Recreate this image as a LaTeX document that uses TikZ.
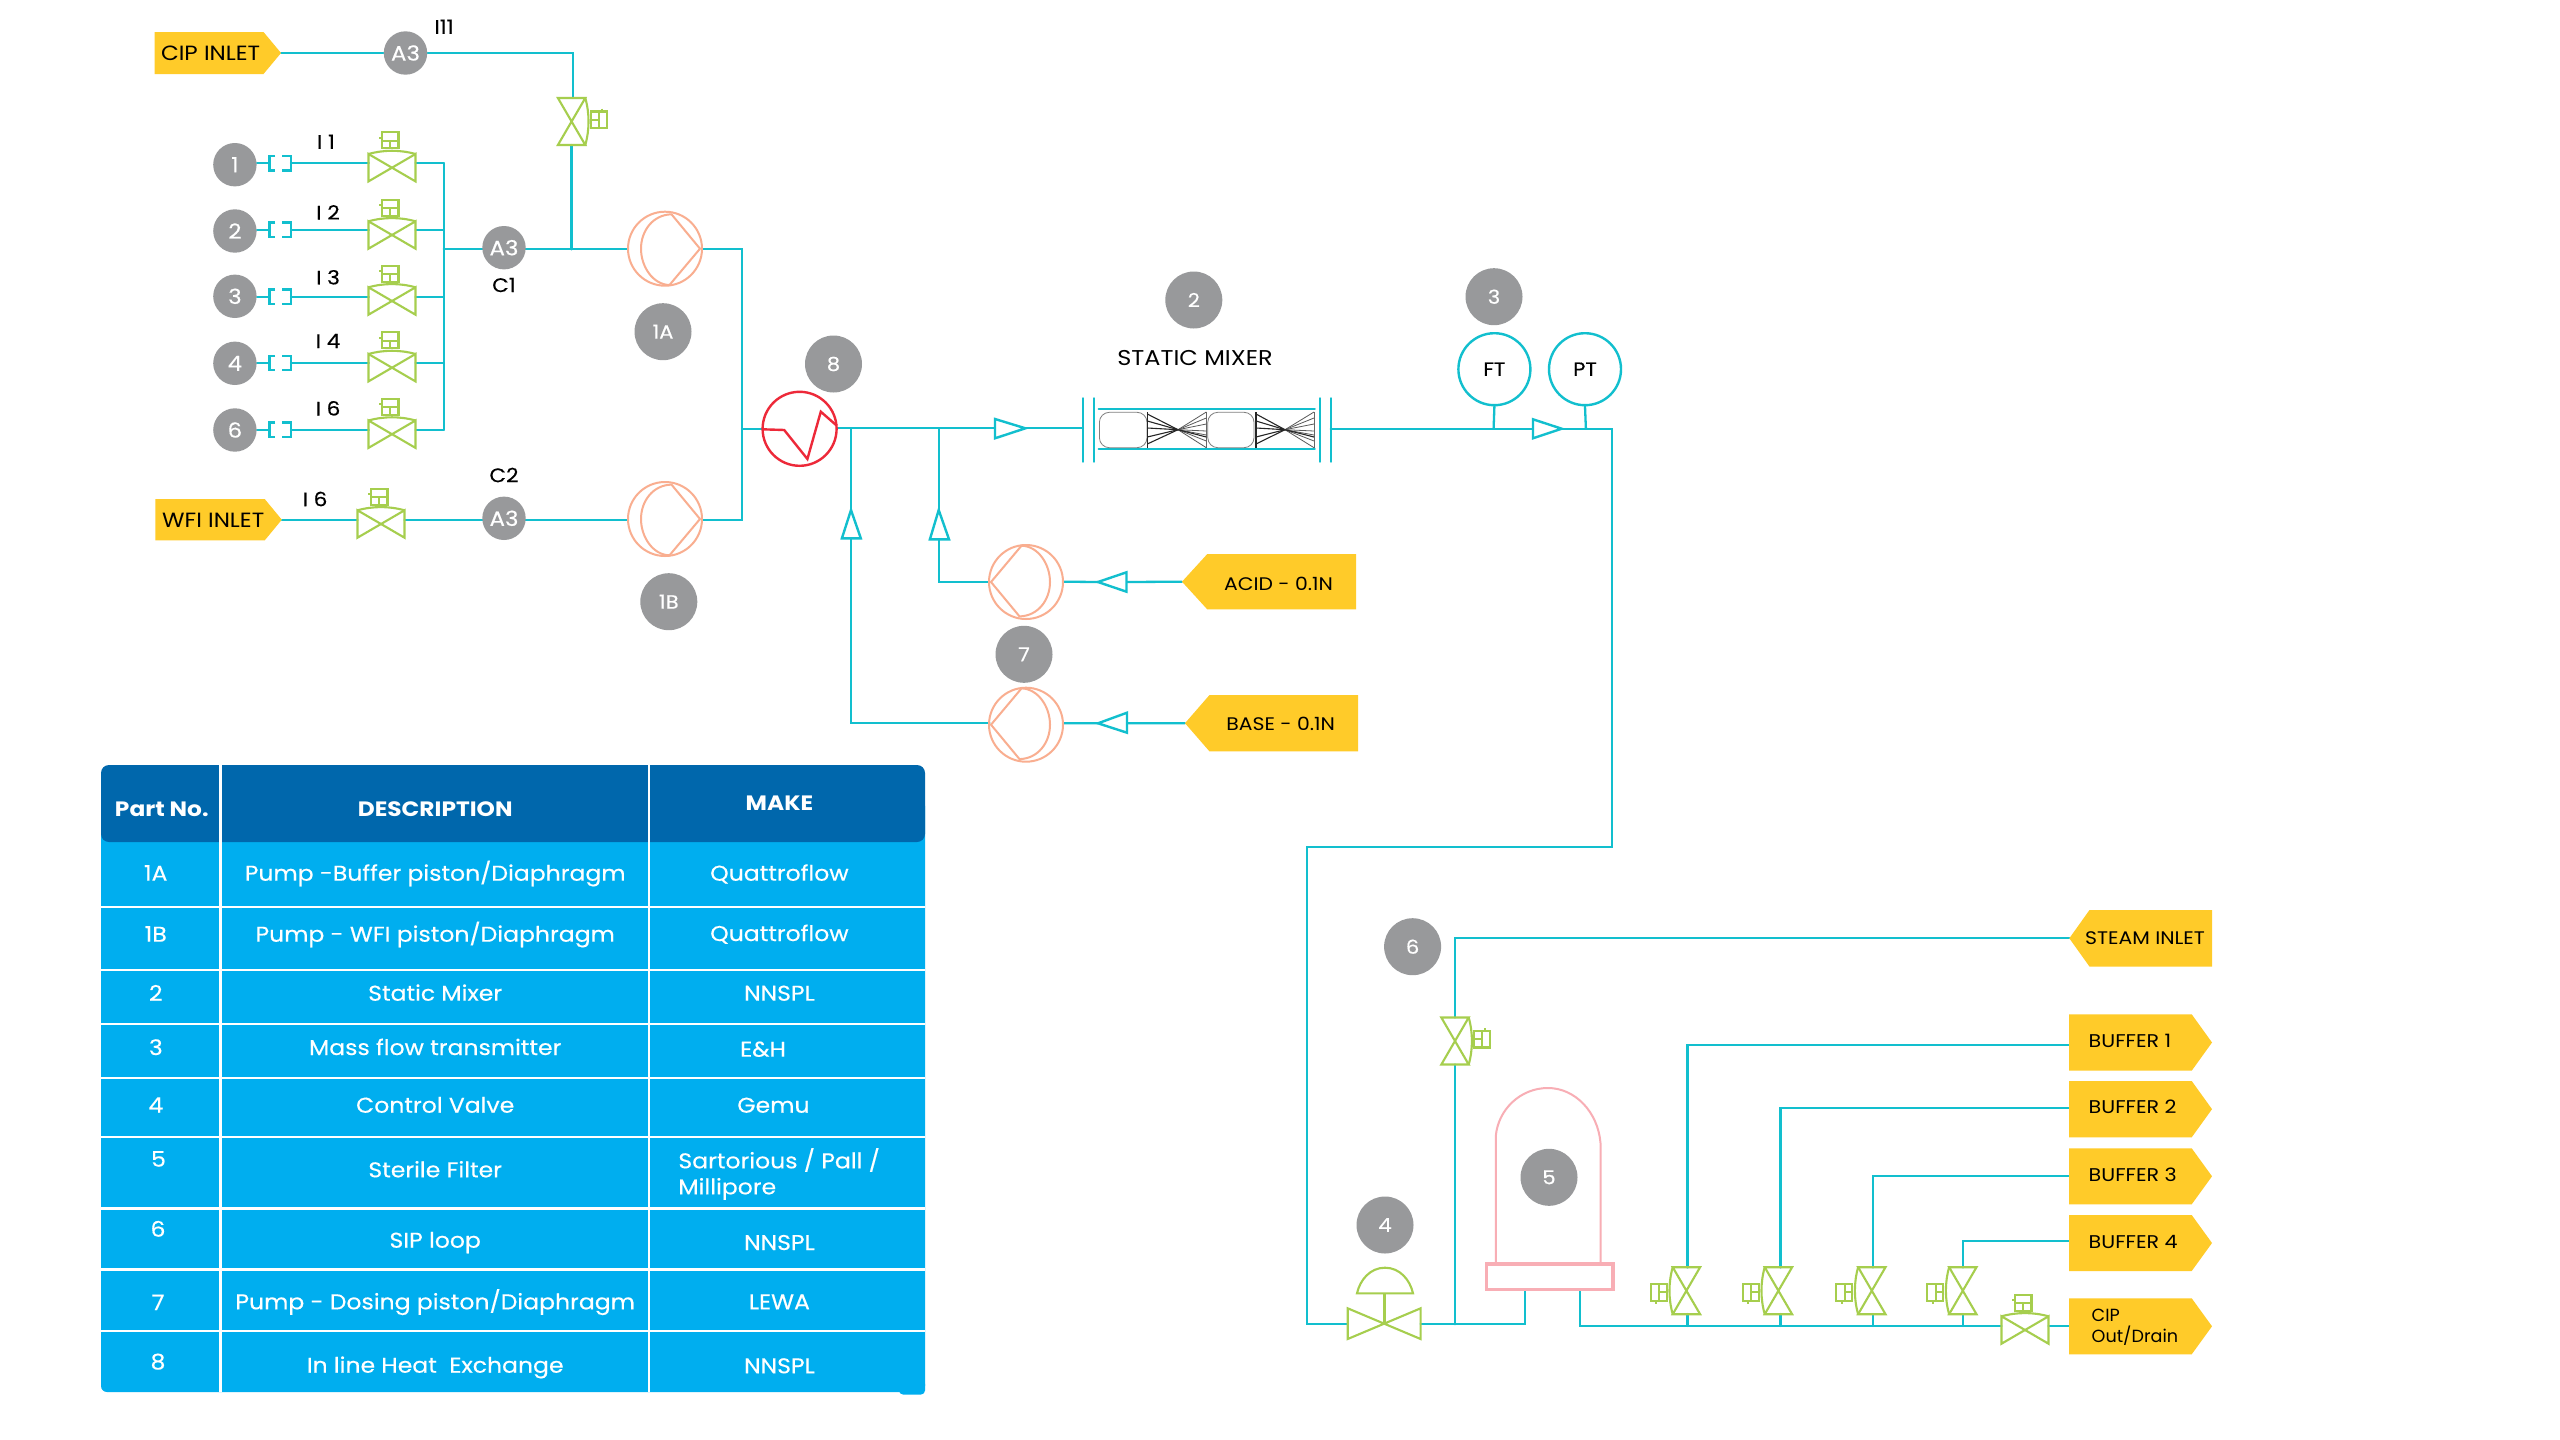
\documentclass[tikz,border=0pt]{standalone}
\usepackage{fontspec}
\setmainfont[FakeStretch=1.12]{Poppins}
\newfontfamily\pmed[FakeBold=0.35,FakeStretch=1.1]{Poppins}
\newfontfamily\pplain{Poppins}
\usetikzlibrary{backgrounds,calc}
\definecolor{teal1}{HTML}{12BFCE}
\definecolor{green1}{HTML}{A6CE4E}
\definecolor{salmon1}{HTML}{F9AE90}
\definecolor{red1}{HTML}{ED2939}
\definecolor{pink1}{HTML}{F8AEB5}
\definecolor{tagc}{HTML}{FFCB29}
\definecolor{badgec}{HTML}{98999B}
\definecolor{hdr}{HTML}{0067AC}
\definecolor{bodyc}{HTML}{00AEEF}
\newcommand{\fsz}[1]{\fontsize{#1}{#1}\selectfont}
\newcommand{\tagright}[6]{% name xleft xnotch xtip ytop ybot
  \fill[tagc] (#2,#5) -- (#3,#5) -- (#4,{(#5+#6)/2}) -- (#3,#6) -- (#2,#6) -- cycle;
  \coordinate (#1) at (#4,{(#5+#6)/2});}
\newcommand{\tagrightflat}[6]{% name xleft xnotch xtip ytop ybot; connector on left edge
  \fill[tagc] (#2,#5) -- (#3,#5) -- (#4,{(#5+#6)/2}) -- (#3,#6) -- (#2,#6) -- cycle;}
\newcommand{\tagleft}[6]{% name xtip xnotch xright ytop ybot
  \fill[tagc] (#4,#5) -- (#3,#5) -- (#2,{(#5+#6)/2}) -- (#3,#6) -- (#4,#6) -- cycle;
  \coordinate (#1) at (#2,{(#5+#6)/2});}
\newcommand{\tcell}[4]{\node[tabtext] (#1) at (#2,#3) {#4};}
\newcommand{\tcellL}[4]{\node[tabtext,anchor=base west] (#1) at (#2,#3) {#4};}
\tikzset{
  x=0.5pt,y=-0.5pt,
  pipe/.style={draw=teal1,line width=1.15pt,line cap=round,line join=miter},
  valveline/.style={draw=green1,line width=1.05pt,line join=miter},
  badge/.style={circle,fill=badgec,inner sep=0pt,minimum size=21.7pt,text=white,font=\pmed\fsz{10.4}},
  bigbadge/.style={badge,minimum size=28.5pt,font=\pmed\fsz{9.6}},
  lbl/.style={inner sep=0pt,text=black,font=\pmed\fsz{9.8}},
  tagtext/.style={inner sep=0pt,text=black,font=\fsz{10.3}},
  buftext/.style={inner sep=0pt,text=black,anchor=west,font=\fsz{9.2}},
  tabtext/.style={inner sep=0pt,text=white,anchor=base,font=\pmed\fsz{10.7}},
  tabhead/.style={tabtext,font=\bfseries\fsz{10.4}},
  meter/.style={circle,draw=teal1,line width=1.2pt,fill=white,inner sep=0pt,minimum size=36pt,text=black,font=\pmed\fsz{9.6}},
  valve/.pic={
    \draw[valveline] (-23.5,-13.7) -- (23.5,13.7) -- (23.5,-13.7) -- (-23.5,13.7) -- cycle;
    \draw[valveline] (-23.5,-13.7) .. controls (-8,-18) and (8,-18) .. (23.5,-13.7);
    \draw[valveline] (-10,-35.4) rectangle (6.5,-19.4);
    \draw[valveline] (-10,-27) -- (6.5,-27) (-1.7,-27) -- (-1.7,-19.4) (-13,-30) -- (-10,-30);
  },
  pumpsym/.pic={
    \draw[draw=salmon1,line width=1pt] (0,0) circle (18.5pt);
    \draw[draw=salmon1,line width=1pt,line join=miter]
      (6.5,-34.4) .. controls (-12,-34) and (-24,-18) .. (-24,0)
      .. controls (-24,18) and (-12,36) .. (4.5,36.3) -- (35,0) -- cycle;
  },
}
\begin{document}
\begin{tikzpicture}
\useasboundingbox (0,0) rectangle (2560,1440);
\begin{scope}[on background layer]
\fill[white] (0,0) rectangle (2560,1440);
\end{scope}

%% ---- tags
\tagright{cipin}{154.5}{263.5}{281}{32}{74}
\node[tagtext] (cipintxt) at (210.6,53) {CIP INLET};
\tagright{wfiin}{155.3}{264.7}{281.8}{499}{540.4}
\node[tagtext] (wfiintxt) at (213.2,520) {WFI INLET};
\tagleft{acidt}{1182}{1207.3}{1356}{554}{609.4}
\node[tagtext,font=\fsz{9.1}] (acidtxt) at (1278.5,584) {ACID - 0.1N};
\tagleft{baset}{1185}{1209.5}{1358}{695}{751.4}
\node[tagtext,font=\fsz{9.1}] (basetxt) at (1280.7,724) {BASE - 0.1N};
\tagleft{steamt}{2069.3}{2089.5}{2212}{910}{966.6}
\node[tagtext,font=\fsz{9.1}] (steamtxt) at (2145,938.3) {STEAM INLET};
\tagrightflat{b1t}{2069}{2191.7}{2212}{1014.3}{1070.7}
\tagrightflat{b2t}{2069}{2191.7}{2212}{1081}{1137.3}
\tagrightflat{b3t}{2069}{2191.7}{2212}{1148.3}{1204.3}
\tagrightflat{b4t}{2069}{2191.7}{2212}{1215}{1271}
\tagrightflat{ct}{2069}{2191.7}{2212}{1298.3}{1354.3}
\node[buftext] (b1txt) at (2088.3,1041.3) {BUFFER 1};
\node[buftext] (b2txt) at (2088.3,1106.7) {BUFFER 2};
\node[buftext] (b3txt) at (2088.3,1174.3) {BUFFER 3};
\node[buftext] (b4txt) at (2088.3,1241.7) {BUFFER 4};
\node[buftext,font=\pplain\fsz{8.8}] (c1txt) at (2091.3,1315.7) {CIP};
\node[buftext,font=\pplain\fsz{8.8}] (c2txt) at (2091.3,1336) {Out/Drain};

%% ---- small badges
\foreach \n/\y in {1/164.7,2/231,3/296.3,4/363.3,6/430}
  \node[badge] (g\n) at (234.9,\y) {\n};
\node[badge] (a3top) at (405.5,53) {A3};
\node[badge] (a3c1) at (504,247.7) {A3};
\node[badge] (a3c2) at (504,518.3) {A3};
%% ---- big badges
\node[bigbadge] (n1a) at (663,331.7) {1A};
\node[bigbadge] (n1b) at (668.8,601.7) {1B};
\node[bigbadge] (n8) at (833.5,364) {8};
\node[bigbadge] (n2) at (1193.8,300) {2};
\node[bigbadge] (n3) at (1494,296.7) {3};
\node[bigbadge] (n7) at (1024,654.3) {7};
\node[bigbadge] (n6) at (1412.6,946.7) {6};
\node[bigbadge] (n5) at (1549,1177.3) {5};
\node[bigbadge] (n4) at (1385,1225) {4};
%% ---- labels
\node[lbl] (i11) at (444,26.7) {I11};
\node[lbl] (i1) at (326,141.7) {I 1};
\node[lbl] (i2) at (328,212.3) {I 2};
\node[lbl] (i3) at (328,277.3) {I 3};
\node[lbl] (i4) at (328,341) {I 4};
\node[lbl] (i6) at (328,408.3) {I 6};
\node[lbl] (i6b) at (315,499) {I 6};
\node[lbl] (c1) at (504,285) {C1};
\node[lbl] (c2) at (504,475) {C2};
\node[inner sep=0pt,font=\fsz{10.7}] (smx) at (1195,358.3) {STATIC MIXER};
\node[meter] (ft) at (1494.4,369.2) {FT};
\node[meter] (pt) at (1585,369.2) {PT};

%% ---- valves, pumps
\foreach \n/\y in {1/167.7,2/235,3/301,4/367.7,6/434.2}
  \pic at (392,\y) {valve};
\pic at (381,524) {valve};
\pic[rotate=-90] at (571.6,121.5) {valve};
\pic[rotate=-90] at (1455,1041) {valve};
\foreach \x in {1686.4,1778.4,1871.8,1962.8}
  \pic[rotate=90] at (\x,1290.7) {valve};
\pic at (2025,1330) {valve};
\pic at (665,248.7) {pumpsym};
\pic at (665,519) {pumpsym};
\pic[rotate=180] at (1026,582) {pumpsym};
\pic[rotate=180] at (1026,724.7) {pumpsym};

%% heat exchanger
\draw[draw=red1,line width=1.2pt] (799.6,428.8) circle (18.5pt);
\draw[draw=red1,line width=1.2pt,line join=miter] (762.3,429.3) -- (784.2,430) -- (807.4,459) -- (820.8,411.7) -- (836.8,425.7);

%% control valve
\draw[valveline] (1347.7,1308.3) -- (1420.6,1339) -- (1420.6,1308.3) -- (1347.7,1339) -- cycle;
\draw[valveline] (1357,1293.3) .. controls (1360,1280) and (1370,1267.7) .. (1385,1267.7) .. controls (1400,1267.7) and (1410,1280) .. (1413,1293.3) -- cycle;
\draw[valveline] (1384.5,1293.3) -- (1384.5,1323.5);

%% filter
\draw[draw=pink1,line width=1pt] (1495.8,1263) -- (1495.8,1136) .. controls (1498,1110) and (1520,1088) .. (1548,1088) .. controls (1575,1088) and (1598,1112) .. (1600.5,1143) -- (1600.5,1263);
\draw[draw=pink1,line width=1.9pt] (1486.5,1264) rectangle (1613,1289.5);

%% static mixer
\draw[pipe] (1083,398.3) -- (1083,461.7) (1094,398.3) -- (1094,461.7);
\draw[pipe] (1319.7,398.3) -- (1319.7,461.7) (1330.7,398.3) -- (1330.7,461.7);
\draw[pipe] (1098.7,409) -- (1314.7,409) (1098.7,449.3) -- (1314.7,449.3);
\draw[gray,line width=0.4pt,rounded corners=5pt] (1099.4,412.3) rectangle (1147,447.7);
\draw[gray,line width=0.4pt,rounded corners=5pt] (1207.8,412.3) rectangle (1254,447.7);
\foreach \l/\c/\r in {1147.3/1178/1206.3,1256/1285/1314}{
  \draw[black!85,line width=0.55pt] (\l,412) -- (\l,447.7);
  \draw[black!60,line width=0.4pt] (\r,412) -- (\r,447.7);
  \foreach \yy in {414,421,428,437,444}
    \draw[black!85,line width=0.55pt] (\l,\yy) -- (\c,429.7);
  \foreach \yy in {412,418,424,431,435,441,447.7}
    \draw[black!65,line width=0.4pt] (\r,\yy) -- (\c,429.7);
  \draw[black!85,line width=0.55pt] (\r,437) -- (\c,429.7);
}

%% ---- flow triangles
\tikzset{tri/.style={draw=teal1,line width=1.2pt,fill=white,line join=miter}}
\draw[tri] (995,419) -- (1025.4,428.3) -- (995,438.3) -- cycle;
\draw[tri] (1533,419.3) -- (1561.7,428.7) -- (1533,438.3) -- cycle;
\draw[tri] (851,510) -- (860.8,538.3) -- (841.9,538.3) -- cycle;
\draw[tri] (938.7,510) -- (949,539.3) -- (929.9,539.3) -- cycle;
\draw[tri] (1097.9,582) -- (1126.5,572.3) -- (1126.5,591.7) -- cycle;
\draw[tri] (1098,723.3) -- (1127,712.7) -- (1127,732.7) -- cycle;

%% ---- table
\begin{scope}
\fill[bodyc,rounded corners=3pt] (101,800) rectangle (925,1392);
\fill[bodyc,rounded corners=2pt] (899,1380) rectangle (925,1394.5);
\fill[hdr,rounded corners=4pt] (101,765) rectangle (925,842);
\foreach \y in {907,970,1024,1078,1137,1208.3,1269.3,1331}
  \draw[white,line width=1.4pt] (101,\y) -- (925,\y);
\foreach \x in {220.4,649}
  \draw[white,line width=1.3pt] (\x,765) -- (\x,1392);
\end{scope}
\node[tabhead] (hp) at (161.8,816.7) {Part No.};
\node[tabhead] (hd) at (435.2,816.7) {DESCRIPTION};
\node[tabhead] (hm) at (779.4,810) {MAKE};
\tcell{p1}{155.8}{880.7}{1A}
\tcell{p2}{155.8}{941.7}{1B}
\tcell{p3}{155.8}{1000.7}{2}
\tcell{p4}{155.8}{1055}{3}
\tcell{p5}{155.8}{1112.7}{4}
\tcell{p6}{158.5}{1166.7}{5}
\tcell{p7}{158}{1236.7}{6}
\tcell{p8}{158}{1310}{7}
\tcell{p9}{158}{1369.3}{8}
\tcell{d1}{435.2}{880.7}{Pump -Buffer piston/Diaphragm}
\tcell{d2}{435.2}{941.7}{Pump - WFI piston/Diaphragm}
\tcell{d3}{435.2}{1000.7}{Static Mixer}
\tcell{d4}{435.2}{1055}{Mass flow transmitter}
\tcell{d5}{435.2}{1112.7}{Control Valve}
\tcell{d6}{435.2}{1177.3}{Sterile Filter}
\tcell{d7}{435.2}{1247.7}{SIP loop}
\tcell{d8}{435.2}{1309.3}{Pump - Dosing piston/Diaphragm}
\tcell{d9}{435.2}{1372.7}{In line Heat\ \ Exchange}
\tcell{m1}{779.4}{880.7}{Quattroflow}
\tcell{m2}{779.4}{941}{Quattroflow}
\tcell{m3}{779.4}{1000.7}{NNSPL}
\tcell{m4}{763}{1056.7}{E\&H}
\tcell{m5}{773.4}{1112.7}{Gemu}
\tcellL{m6a}{678}{1168.3}{Sartorious / Pall /}
\tcellL{m6b}{678}{1194.3}{Millipore}
\tcell{m7}{779.4}{1250}{NNSPL}
\tcell{m8}{779.4}{1309.3}{LEWA}
\tcell{m9}{779.4}{1373.3}{NNSPL}

%% ---- connectors (behind the symbols)
\coordinate (vtopT) at (572.8,98);
\coordinate (vtopB) at (571.6,145);
\coordinate (topcorner) at (572.8,53);
\coordinate (jc1) at (443.8,249.3);
\coordinate (jv) at (571.6,249.3);
\coordinate (p1aL) at (627.8,249.3);
\coordinate (p1aR) at (702,249.3);
\coordinate (bus2a) at (742,249.3);
\coordinate (bus2b) at (742,519.7);
\coordinate (bus2m) at (742,429.3);
\coordinate (hxL) at (762.3,429.3);
\coordinate (hxR) at (836.8,428.3);
\coordinate (wv1) at (357.5,519.7);
\coordinate (wv2) at (404.5,519.7);
\coordinate (p1bL) at (627.8,519.7);
\coordinate (p1bR) at (702,519.7);
\coordinate (triA) at (995,428.3);
\coordinate (triAt) at (1025.4,428.3);
\coordinate (mxL) at (1083,428.3);
\coordinate (mxR) at (1330.7,428.7);
\coordinate (triB) at (1533,428.7);
\coordinate (triBt) at (1561.7,428.7);
\coordinate (cornerA) at (1612,428.7);
\coordinate (cornerB) at (1612,846.7);
\coordinate (cornerC) at (1307,846.7);
\coordinate (cornerD) at (1307,1324.3);
\coordinate (cvL) at (1347.7,1324.3);
\coordinate (cvR) at (1420.6,1324.3);
\coordinate (filtA) at (1525.2,1324.3);
\coordinate (filtB) at (1525.2,1290);
\coordinate (steamJ) at (1454.8,1324.3);
\coordinate (stvB) at (1454.8,1064.5);
\coordinate (stvT) at (1454.8,1017.5);
\coordinate (stC) at (1454.8,938.3);
\coordinate (outA) at (1579.7,1290);
\coordinate (outB) at (1579.7,1326);
\coordinate (cvvL) at (2001.5,1326);
\coordinate (cvvR) at (2048.5,1326.3);
\coordinate (ctL) at (2069,1326.3);
\coordinate (j851) at (851,428.3);
\coordinate (t851) at (851,510);
\coordinate (b851) at (851,538.3);
\coordinate (c851) at (851,723.3);
\coordinate (j939) at (938.7,428.3);
\coordinate (t939) at (938.7,510);
\coordinate (b939) at (938.7,539.3);
\coordinate (c939) at (938.7,581.7);
\coordinate (p7aL) at (989.5,581.7);
\coordinate (p7aR) at (1063.3,581.7);
\coordinate (p7bL) at (989.5,723.3);
\coordinate (p7bR) at (1063.3,723.3);
\coordinate (ta1) at (1097.9,582);
\coordinate (ta2) at (1126.5,582);
\coordinate (tb1) at (1098,723.3);
\coordinate (tb2) at (1127,723.3);
\coordinate (ftS) at (1493.6,428.7);
\coordinate (ptS) at (1585.9,428.7);

\begin{scope}[on background layer]
\draw[pipe] (cipin) -- (a3top) -- (topcorner) -- (vtopT);
\draw[pipe] (vtopB) -- (jv);
\foreach \n/\y in {1/163.3,2/229.7,3/296.7,4/363,6/429.7}{
  \coordinate (bl\n) at (269.5,\y);
  \coordinate (br\n) at (291,\y);
  \coordinate (vl\n) at (368.8,\y);
  \coordinate (vr\n) at (415.6,\y);
  \coordinate (bus\n) at (443.8,\y);
  \draw[pipe] (g\n.east |- bl\n) -- (bl\n);
  \draw[pipe] (br\n) -- (vl\n);
  \draw[pipe] (vr\n) -- (bus\n);
  \draw[draw=teal1,line width=1.05pt,line join=miter] ([shift={(5.5,-7.2)}]bl\n) -- ([shift={(0,-7.2)}]bl\n) -- ([shift={(0,7.2)}]bl\n) -- ([shift={(5.5,7.2)}]bl\n);
  \draw[draw=teal1,line width=1.05pt,line join=miter] ([shift={(-9,-7.2)}]br\n) -- ([shift={(0,-7.2)}]br\n) -- ([shift={(0,7.2)}]br\n) -- ([shift={(-9,7.2)}]br\n);
}
\draw[pipe] (bus1) -- (bus6);
\draw[pipe] (jc1) -- (p1aL);
\draw[pipe] (p1aR) -- (bus2a) -- (bus2b) -- (p1bR);
\draw[pipe] (bus2m) -- (hxL);
\draw[pipe] (wfiin) -- (wv1);
\draw[pipe] (wv2) -- (p1bL);
\draw[pipe] (hxR) -- (triA);
\draw[pipe] (triAt) -- (mxL);
\draw[pipe] (mxR) -- (triB);
\draw[pipe] (triBt) -- (cornerA) -- (cornerB) -- (cornerC) -- (cornerD) -- (cvL);
\draw[pipe] (ft.south) -- (ftS);
\draw[pipe] (pt.south) -- (ptS);
\draw[pipe] (cvR) -- (filtA) -- (filtB);
\draw[pipe] (steamJ) -- (stvB);
\draw[pipe] (stvT) -- (stC) -- (steamt);
\draw[pipe] (outA) -- (outB) -- (cvvL);
\draw[pipe] (cvvR) -- (ctL);
\draw[pipe] (j851) -- (t851) (b851) -- (c851) -- (p7bL);
\draw[pipe] (j939) -- (t939) (b939) -- (c939) -- (p7aL);
\draw[pipe] (p7aR) -- (ta1) (ta2) -- (acidt);
\draw[pipe] (p7bR) -- (tb1) (tb2) -- (baset);
\foreach \x/\y/\n in {1687.4/1045/1,1780.4/1108.3/2,1872.8/1176/3,1962.8/1241/4}{
  \coordinate (bv\n) at (\x,1267.5);
  \coordinate (bc\n) at (\x,\y);
  \coordinate (bt\n) at (2069,\y);
  \coordinate (bs\n) at (\x,1314);
  \coordinate (bj\n) at (\x,1326);
  \draw[pipe] (bv\n) -- (bc\n) -- (bt\n);
  \draw[pipe] (bs\n) -- (bj\n);
}
\end{scope}
\end{tikzpicture}
\end{document}
